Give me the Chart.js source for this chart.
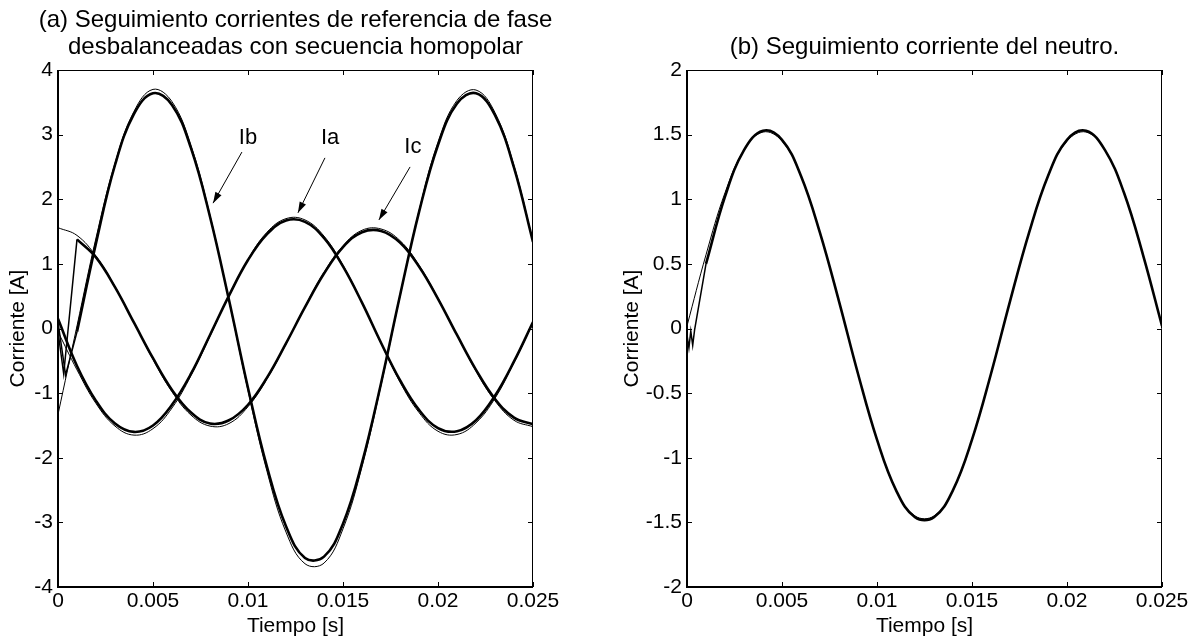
<!DOCTYPE html>
<html>
<head>
<meta charset="utf-8">
<script src="https://cdn.jsdelivr.net/npm/chart.js@4.4.1/dist/chart.umd.min.js"></script>
<style>
  body { margin: 0; background: #fff; }
  #wrap { position: relative; width: 1199px; height: 639px; }
  canvas { position: absolute; top: 0; }
  #chartA { left: 0; }
  #chartB { left: 600px; }
</style>
</head>
<body>
<div id="wrap">
  <canvas id="chartA" width="600" height="639"></canvas>
  <canvas id="chartB" width="599" height="639"></canvas>
</div>
<script>
// sample times [s], one every 1 ms
const t = [0, 0.001, 0.002, 0.003, 0.004, 0.005, 0.006, 0.007, 0.008, 0.009, 0.010, 0.011, 0.012,
  0.013, 0.014, 0.015, 0.016, 0.017, 0.018, 0.019, 0.020, 0.021, 0.022, 0.023, 0.024, 0.025];

// (a) phase currents: reference (thin) and measured (thick)
const iaRef = [-0.05, -0.64, -1.16, -1.51, -1.65, -1.55, -1.23, -0.73, -0.12, 0.51, 1.07, 1.49, 1.70,
  1.68, 1.43, 0.98, 0.40, -0.23, -0.83, -1.30, -1.59, -1.64, -1.46, -1.08, -0.53, 0.09];
const ibRef = [-1.33, 0.04, 1.40, 2.56, 3.36, 3.70, 3.51, 2.83, 1.75, 0.43, -0.96, -2.21, -3.15,
  -3.64, -3.63, -3.10, -2.14, -0.88, 0.50, 1.82, 2.88, 3.53, 3.69, 3.34, 2.52, 1.35];
const icRef = [1.56, 1.44, 1.12, 0.65, 0.09, -0.48, -0.98, -1.34, -1.51, -1.47, -1.21, -0.78, -0.24,
  0.34, 0.87, 1.28, 1.52, 1.54, 1.36, 0.98, 0.47, -0.10, -0.66, -1.12, -1.42, -1.52];

const iaAct = [0.15, -0.58, -1.12, -1.47, -1.60, -1.50, -1.18, -0.70, -0.10, 0.51, 1.06, 1.46, 1.67,
  1.65, 1.40, 0.96, 0.40, -0.22, -0.80, -1.26, -1.54, -1.59, -1.42, -1.04, -0.51, 0.10];
const ibAct = [null, -0.05, 1.32, 2.53, 3.32, 3.64, 3.46, 2.79, 1.73, 0.44, -0.92, -2.14, -3.06,
  -3.55, -3.53, -3.02, -2.08, -0.85, 0.51, 1.80, 2.84, 3.48, 3.64, 3.30, 2.49, 1.34];
const icAct = [null, 1.38, 1.10, 0.64, 0.09, -0.46, -0.95, -1.30, -1.47, -1.42, -1.18, -0.76, -0.23,
  0.33, 0.85, 1.26, 1.49, 1.51, 1.33, 0.96, 0.46, -0.10, -0.64, -1.09, -1.38, -1.48];

// start-up transients of the measured currents
const ibStartT = [0, 0.0004, 0.001];
const ibStartV = [0.10, -0.72, -0.05];
const icStartT = [0, 0.0003, 0.001];
const icStartV = [-0.05, -0.70, 1.38];

// (b) neutral current
const inRef = [0.02, 0.57, 1.05, 1.38, 1.52, 1.45, 1.18, 0.74, 0.21, -0.35, -0.86, -1.25, -1.45,
  -1.45, -1.25, -0.86, -0.35, 0.21, 0.74, 1.18, 1.45, 1.52, 1.38, 1.05, 0.57, 0.02];
const inAct = [null, 0.50, 1.02, 1.38, 1.53, 1.46, 1.18, 0.74, 0.21, -0.35, -0.86, -1.25, -1.46,
  -1.46, -1.25, -0.86, -0.35, 0.21, 0.74, 1.18, 1.46, 1.53, 1.38, 1.05, 0.57, 0.02];
const inStartT = [0, 0.0001, 0.0002, 0.0003, 0.0004, 0.001];
const inStartV = [-0.05, -0.15, -0.02, -0.13, -0.01, 0.50];

// axis ticks
const xTickVals = [0, 0.005, 0.01, 0.015, 0.02, 0.025];
const xTickLabels = ['0', '0.005', '0.01', '0.015', '0.02', '0.025'];
const yTicksA = [-4, -3, -2, -1, 0, 1, 2, 3, 4];
const yTicksB = [-2, -1.5, -1, -0.5, 0, 0.5, 1, 1.5, 2];

// titles
const titleA = ['(a) Seguimiento corrientes de referencia de fase', 'desbalanceadas con secuencia homopolar'];
const titleB = ['(b) Seguimiento corriente del neutro.'];

// curve labels in (a), in data units
const tagNames = ['Ib', 'Ia', 'Ic'];
const tagT = [0.0100, 0.01432, 0.01868];
const tagV = [2.95, 2.95, 2.81];
const arrowFromT = [0.00968, 0.01405, 0.01853];
const arrowFromV = [2.73, 2.64, 2.50];
const arrowToT = [0.00816, 0.01263, 0.01689];
const arrowToV = [1.94, 1.79, 1.68];

const FONT = '"Liberation Sans", Arial, Helvetica, sans-serif';
Chart.defaults.font.family = FONT;
Chart.defaults.color = '#000';

function pts(xs, ys) {
  const out = [];
  xs.forEach((x, i) => {
    if (ys[i] !== null) out.push({ x: x, y: ys[i] });
  });
  return out;
}

function curve(data, width, tension) {
  return {
    data: data,
    borderColor: '#000',
    borderWidth: width,
    pointRadius: 0,
    tension: tension,
    fill: false
  };
}

// box round the plot with inward ticks on every side
const frame = {
  id: 'frame',
  afterDatasetsDraw(chart) {
    const { ctx, chartArea: a, scales: { x, y } } = chart;
    ctx.save();
    ctx.strokeStyle = '#000';
    ctx.lineWidth = 1;
    ctx.beginPath();
    x.ticks.forEach((tk) => {
      const px = Math.round(x.getPixelForValue(tk.value)) + 0.5;
      ctx.moveTo(px, a.bottom);
      ctx.lineTo(px, a.bottom - 5);
      ctx.moveTo(px, a.top);
      ctx.lineTo(px, a.top + 5);
    });
    y.ticks.forEach((tk) => {
      const py = Math.round(y.getPixelForValue(tk.value)) + 0.5;
      ctx.moveTo(a.left, py);
      ctx.lineTo(a.left + 5, py);
      ctx.moveTo(a.right, py);
      ctx.lineTo(a.right - 5, py);
    });
    // top and right edges
    ctx.moveTo(a.left, a.top + 0.5);
    ctx.lineTo(a.right, a.top + 0.5);
    ctx.moveTo(a.right - 0.5, a.top);
    ctx.lineTo(a.right - 0.5, a.bottom);
    ctx.stroke();
    // left and bottom axes, a little heavier
    ctx.lineWidth = 2;
    ctx.beginPath();
    ctx.moveTo(a.left, a.top);
    ctx.lineTo(a.left, a.bottom);
    ctx.lineTo(a.right, a.bottom);
    ctx.stroke();
    ctx.restore();
  }
};

// title centred over the plot box
const heading = {
  id: 'heading',
  afterDraw(chart, args, opts) {
    const { ctx, chartArea: a } = chart;
    const cx = (a.left + a.right) / 2;
    ctx.save();
    ctx.fillStyle = '#000';
    ctx.font = '24px ' + FONT;
    ctx.textAlign = 'center';
    ctx.textBaseline = 'middle';
    const first = 47 - (opts.lines.length - 1) * 27;
    opts.lines.forEach((s, i) => ctx.fillText(s, cx, first + i * 27));
    ctx.restore();
  }
};

const phaseTags = {
  id: 'phaseTags',
  afterDatasetsDraw(chart) {
    const { ctx, scales: { x, y } } = chart;
    ctx.save();
    ctx.fillStyle = '#000';
    ctx.strokeStyle = '#000';
    ctx.lineWidth = 1;
    ctx.font = '22px ' + FONT;
    ctx.textAlign = 'center';
    ctx.textBaseline = 'middle';
    tagNames.forEach((name, i) => {
      ctx.fillText(name, x.getPixelForValue(tagT[i]), y.getPixelForValue(tagV[i]));
      const x0 = x.getPixelForValue(arrowFromT[i]);
      const y0 = y.getPixelForValue(arrowFromV[i]);
      const x1 = x.getPixelForValue(arrowToT[i]);
      const y1 = y.getPixelForValue(arrowToV[i]);
      ctx.beginPath();
      ctx.moveTo(x0, y0);
      ctx.lineTo(x1, y1);
      ctx.stroke();
      const ang = Math.atan2(y1 - y0, x1 - x0);
      const L = 11, W = 3.5;
      ctx.beginPath();
      ctx.moveTo(x1, y1);
      ctx.lineTo(x1 - L * Math.cos(ang) + W * Math.sin(ang), y1 - L * Math.sin(ang) - W * Math.cos(ang));
      ctx.lineTo(x1 - L * Math.cos(ang) - W * Math.sin(ang), y1 - L * Math.sin(ang) + W * Math.cos(ang));
      ctx.closePath();
      ctx.fill();
    });
    ctx.restore();
  }
};

function options(cfg) {
  return {
    responsive: false,
    animation: false,
    devicePixelRatio: 1,
    layout: { padding: { left: 0, right: cfg.padRight, top: 70, bottom: 0 } },
    plugins: {
      legend: { display: false },
      tooltip: { enabled: false },
      title: { display: false },
      heading: { lines: cfg.title }
    },
    scales: {
      x: {
        type: 'linear',
        min: 0,
        max: 0.025,
        afterBuildTicks: (s) => { s.ticks = xTickVals.map((v) => ({ value: v })); },
        afterFit: (s) => { s.height = 52; },
        grid: { display: false, drawTicks: false },
        border: { display: false },
        ticks: {
          font: { size: 21 },
          padding: 2,
          maxRotation: 0,
          autoSkip: false,
          callback: (v, i) => xTickLabels[i]
        },
        title: { display: true, text: 'Tiempo [s]', font: { size: 21 }, padding: { top: 0, bottom: 0 } }
      },
      y: {
        type: 'linear',
        min: cfg.yMin,
        max: cfg.yMax,
        afterBuildTicks: (s) => { s.ticks = cfg.yTicks.map((v) => ({ value: v })); },
        afterFit: (s) => { s.width = cfg.yWidth; },
        grid: { display: false, drawTicks: false },
        border: { display: false },
        ticks: { font: { size: 21 }, padding: 5, callback: (v) => String(v) },
        title: {
          display: true,
          text: 'Corriente [A]',
          font: { size: 21 },
          padding: { top: cfg.yTitlePad, bottom: 0 }
        }
      }
    }
  };
}

new Chart(document.getElementById('chartA'), {
  type: 'line',
  data: {
    datasets: [
      curve(pts(t, iaRef), 1, 0.4),
      curve(pts(t, ibRef), 1, 0.4),
      curve(pts(t, icRef), 1, 0.4),
      curve(pts(t, iaAct), 2.6, 0.4),
      curve(pts(t, ibAct), 2.6, 0.4),
      curve(pts(t, icAct), 2.6, 0.4),
      curve(pts(ibStartT, ibStartV), 1.5, 0),
      curve(pts(icStartT, icStartV), 1.5, 0)
    ]
  },
  options: options({
    padRight: 67,
    yWidth: 58,
    yTitlePad: 6,
    yMin: -4,
    yMax: 4,
    yTicks: yTicksA,
    title: titleA
  }),
  plugins: [frame, heading, phaseTags]
});

new Chart(document.getElementById('chartB'), {
  type: 'line',
  data: {
    datasets: [
      curve(pts(t, inRef), 1, 0.4),
      curve(pts(t, inAct), 2.6, 0.4),
      curve(pts(inStartT, inStartV), 1.5, 0)
    ]
  },
  options: options({
    padRight: 37,
    yWidth: 87,
    yTitlePad: 20,
    yMin: -2,
    yMax: 2,
    yTicks: yTicksB,
    title: titleB
  }),
  plugins: [frame, heading]
});
</script>
</body>
</html>
